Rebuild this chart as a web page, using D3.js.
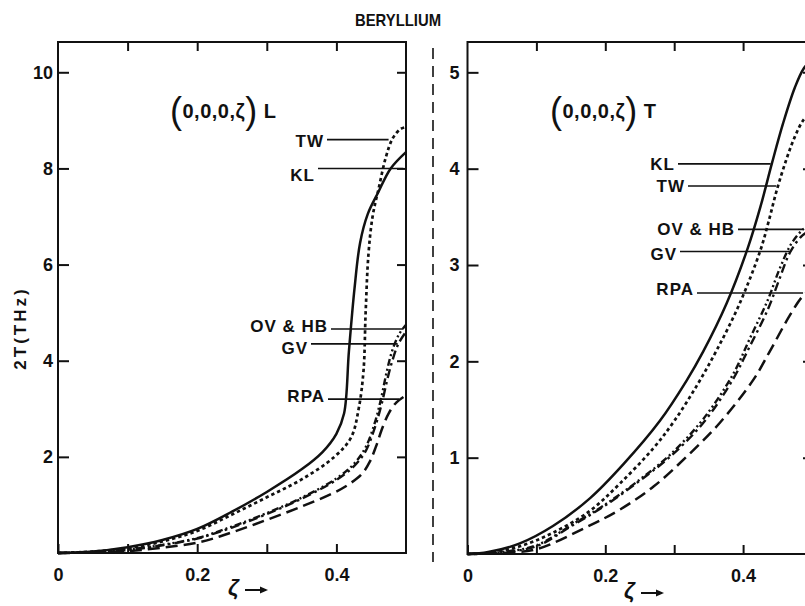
<!DOCTYPE html>
<html><head><meta charset="utf-8">
<script src="https://cdn.jsdelivr.net/npm/d3@7"></script>
<style>
body{margin:0;background:#fff;}
text{font-family:"Liberation Sans",Arial,sans-serif;font-weight:bold;fill:#111;}
</style></head>
<body><svg id="c" width="805" height="606"></svg>
<script>
// ---------- DATA ----------
const title = "BERYLLIUM";
const yLabel = "2T(THz)";
const xTicks = [0, 0.1, 0.2, 0.3, 0.4];
const xTickLabels = ["0", "", "0.2", "", "0.4"];
const yTicksL = [2, 4, 6, 8, 10];
const yTicksR = [1, 2, 3, 4, 5];
const seriesNames = ["KL", "TW", "OV & HB", "GV", "RPA"];

// Longitudinal (0,0,0,ζ) L  : [ζ, 2T]
const L_KL = [[0,0],[0.05,0.03],[0.1,0.12],[0.15,0.27],[0.2,0.5],[0.25,0.86],[0.3,1.27],[0.35,1.74],[0.38,2.1],[0.4,2.48],[0.411,2.9],[0.418,4.2],[0.426,5.5],[0.434,6.45],[0.445,7.05],[0.46,7.5],[0.478,8.0],[0.5,8.34]];
const L_TW = [[0,0],[0.05,0.03],[0.1,0.1],[0.15,0.24],[0.2,0.46],[0.25,0.8],[0.3,1.16],[0.35,1.53],[0.397,2.0],[0.421,2.4],[0.432,3.0],[0.439,3.8],[0.442,5.0],[0.446,6.2],[0.452,7.0],[0.461,7.6],[0.471,8.23],[0.481,8.63],[0.492,8.82],[0.5,8.86]];
const L_OVHB = [[0,0],[0.05,0.02],[0.1,0.07],[0.15,0.17],[0.2,0.31],[0.25,0.55],[0.3,0.83],[0.35,1.15],[0.4,1.55],[0.425,1.85],[0.442,2.2],[0.455,2.7],[0.464,3.2],[0.472,3.75],[0.48,4.2],[0.49,4.55],[0.5,4.75]];
const L_GV = [[0,0],[0.05,0.02],[0.1,0.06],[0.15,0.16],[0.2,0.3],[0.25,0.53],[0.3,0.81],[0.35,1.13],[0.4,1.52],[0.425,1.8],[0.442,2.12],[0.455,2.6],[0.465,3.1],[0.473,3.6],[0.48,3.98],[0.489,4.35],[0.5,4.6]];
const L_RPA = [[0,0],[0.05,0.01],[0.1,0.04],[0.15,0.11],[0.205,0.23],[0.252,0.44],[0.3,0.69],[0.349,0.96],[0.396,1.25],[0.42,1.45],[0.437,1.65],[0.448,1.9],[0.457,2.22],[0.466,2.6],[0.475,2.9],[0.486,3.13],[0.5,3.28]];

// Transverse (0,0,0,ζ) T
const T_KL = [[0,0],[0.03,0.02],[0.076,0.11],[0.124,0.29],[0.178,0.58],[0.226,0.93],[0.279,1.38],[0.318,1.8],[0.342,2.1],[0.376,2.6],[0.407,3.18],[0.425,3.6],[0.442,4.06],[0.458,4.47],[0.475,4.84],[0.488,5.04],[0.5,5.13]];
const T_TW = [[0,0],[0.03,0.01],[0.076,0.08],[0.124,0.22],[0.178,0.45],[0.221,0.73],[0.27,1.1],[0.3,1.38],[0.333,1.75],[0.362,2.12],[0.395,2.6],[0.425,3.15],[0.437,3.45],[0.449,3.78],[0.463,4.1],[0.475,4.33],[0.487,4.5],[0.5,4.6]];
const T_OVHB = [[0,0],[0.05,0.02],[0.1,0.09],[0.153,0.31],[0.197,0.5],[0.246,0.75],[0.294,1.03],[0.342,1.4],[0.385,1.86],[0.41,2.24],[0.436,2.64],[0.453,2.96],[0.47,3.22],[0.487,3.37],[0.5,3.43]];
const T_GV = [[0,0],[0.05,0.02],[0.1,0.08],[0.153,0.3],[0.197,0.49],[0.246,0.74],[0.294,1.01],[0.342,1.36],[0.385,1.81],[0.41,2.16],[0.436,2.54],[0.453,2.86],[0.468,3.13],[0.485,3.3],[0.5,3.37]];
const T_RPA = [[0,0],[0.05,0.01],[0.1,0.05],[0.173,0.28],[0.221,0.46],[0.27,0.7],[0.318,1.01],[0.366,1.36],[0.415,1.81],[0.44,2.12],[0.468,2.48],[0.487,2.68],[0.5,2.75]];

// leader-line heights (data units)
const L_labelY = {"TW":8.6, "KL":8.0, "OV & HB":4.66, "GV":4.35, "RPA":3.2};
const T_labelY = {"KL":4.05, "TW":3.82, "OV & HB":3.37, "GV":3.14, "RPA":2.71};

// ---------- DRAW ----------
const svg = d3.select("#c");
const styles = {
  "KL":      {dash: null, w: 2.5},
  "TW":      {dash: "3.4,3", w: 2.7},
  "OV & HB": {dash: "7,3,2,3,2,3", w: 2.4},
  "GV":      {dash: "9,4,2.5,4", w: 2.4},
  "RPA":     {dash: "12,6", w: 2.5}
};

function panel(cfg){
  const x = d3.scaleLinear().domain([0,0.5]).range(cfg.xr);
  const y = d3.scaleLinear().domain([0,cfg.ymax]).range(cfg.yr);
  const g = svg.append("g");
  const x0 = cfg.xr[0], x1 = cfg.xr[1], y0 = cfg.yr[0], y1 = cfg.yr[1];
  g.append("rect").attr("x",x0).attr("y",y1).attr("width",x1-x0).attr("height",y0-y1)
    .attr("fill","none").attr("stroke","#111").attr("stroke-width",2);
  const ab = g.append("g").attr("transform",`translate(0,${y0})`)
    .call(d3.axisBottom(x).tickValues(xTicks).tickSizeInner(-9).tickSizeOuter(0).tickPadding(15)
      .tickFormat((d,i)=>xTickLabels[i]));
  const at = g.append("g").attr("transform",`translate(0,${y1})`)
    .call(d3.axisTop(x).tickValues(xTicks.slice(1)).tickSizeInner(-9).tickSizeOuter(0).tickFormat(""));
  const al = g.append("g").attr("transform",`translate(${x0},0)`)
    .call(d3.axisLeft(y).tickValues(cfg.yt).tickSizeInner(-11).tickSizeOuter(0).tickPadding(cfg.pad).tickFormat(d3.format("d")));
  const ar = g.append("g").attr("transform",`translate(${x1},0)`)
    .call(d3.axisRight(y).tickValues(cfg.yt).tickSizeInner(-9).tickSizeOuter(0).tickFormat(""));
  [ab,at,al,ar].forEach(a=>{
    a.select(".domain").remove();
    a.selectAll("line").attr("stroke","#111").attr("stroke-width",2);
    a.selectAll("text").attr("font-size",18).attr("font-family","Liberation Sans, Arial, sans-serif")
      .attr("font-weight","bold").attr("fill","#111");
  });
  const line = d3.line().x(d=>x(d[0])).y(d=>y(d[1])).curve(d3.curveCatmullRom.alpha(0.5));
  cfg.series.forEach(s=>{
    g.append("path").datum(s.data).attr("d",line).attr("fill","none")
      .attr("stroke","#111").attr("stroke-width",styles[s.name].w)
      .attr("stroke-dasharray",styles[s.name].dash).attr("stroke-linecap","butt");
  });
  cfg.labels.forEach(l=>{
    const yy = y(l.v);
    g.append("line").attr("x1",l.x1).attr("x2",x(l.xe)).attr("y1",yy).attr("y2",yy)
      .attr("stroke","#111").attr("stroke-width",1.6);
    g.append("text").attr("x",l.x1-3).attr("y",yy+l.dy).attr("text-anchor","end")
      .attr("font-size",17).attr("letter-spacing",1).text(l.name);
  });
  g.append("text").attr("x",cfg.pl[0]).attr("y",cfg.pl[1]).attr("font-size",20)
    .attr("font-weight","bold").attr("letter-spacing",0.5)
    .html(`<tspan font-size="36" font-weight="normal" dy="5">(</tspan><tspan dy="-5">0,0,0,ζ</tspan><tspan font-size="36" font-weight="normal" dy="5">)</tspan><tspan dy="-5" dx="6">${cfg.tag}</tspan>`);
  g.append("text").attr("x",cfg.xl[0]).attr("y",cfg.xl[1]).attr("font-size",22).attr("font-style","italic").text("ζ");
  g.append("line").attr("x1",cfg.xl[0]+17).attr("x2",cfg.xl[0]+38).attr("y1",cfg.xl[1]-5).attr("y2",cfg.xl[1]-5)
    .attr("stroke","#111").attr("stroke-width",2);
  g.append("path").attr("d",`M${cfg.xl[0]+40},${cfg.xl[1]-5} l-8,-3.5 l0,7 z`).attr("fill","#111");
}

panel({
  xr:[58,406], yr:[553,42], ymax:10.63, yt:yTicksL, pad:5, tag:"L",
  series:[{name:"KL",data:L_KL},{name:"TW",data:L_TW},{name:"OV & HB",data:L_OVHB},{name:"GV",data:L_GV},{name:"RPA",data:L_RPA}],
  labels:[
    {name:"TW", v:L_labelY["TW"], x1:327, xe:0.475, dy:7},
    {name:"KL", v:L_labelY["KL"], x1:318, xe:0.496, dy:13},
    {name:"OV & HB", v:L_labelY["OV & HB"], x1:331, xe:0.496, dy:3},
    {name:"GV", v:L_labelY["GV"], x1:311, xe:0.488, dy:10},
    {name:"RPA", v:L_labelY["RPA"], x1:328, xe:0.49, dy:3}
  ],
  pl:[170,118], xl:[228,595]
});
panel({
  xr:[467.5,812], yr:[554,42], ymax:5.315, yt:yTicksR, pad:8, tag:"T",
  series:[{name:"KL",data:T_KL},{name:"TW",data:T_TW},{name:"OV & HB",data:T_OVHB},{name:"GV",data:T_GV},{name:"RPA",data:T_RPA}],
  labels:[
    {name:"KL", v:T_labelY["KL"], x1:678, xe:0.44, dy:6},
    {name:"TW", v:T_labelY["TW"], x1:688, xe:0.448, dy:6},
    {name:"OV & HB", v:T_labelY["OV & HB"], x1:738, xe:0.487, dy:6},
    {name:"GV", v:T_labelY["GV"], x1:680, xe:0.468, dy:8},
    {name:"RPA", v:T_labelY["RPA"], x1:697, xe:0.487, dy:2}
  ],
  pl:[550,118], xl:[624,598]
});

svg.append("line").attr("x1",433).attr("x2",433).attr("y1",48).attr("y2",562)
  .attr("stroke","#111").attr("stroke-width",1.6).attr("stroke-dasharray","11,7");
svg.append("text").attr("x",398).attr("y",26).attr("text-anchor","middle").attr("font-size",17)
  .attr("textLength",86).attr("lengthAdjust","spacingAndGlyphs").text(title);
svg.append("text").attr("transform","translate(26,328) rotate(-90)").attr("text-anchor","middle")
  .attr("font-size",17).attr("letter-spacing",3).text(yLabel);
</script></body></html>
